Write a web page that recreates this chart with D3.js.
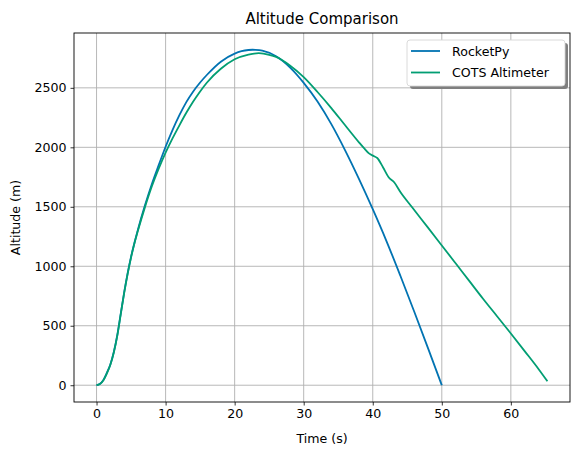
<!DOCTYPE html>
<html>
<head>
<meta charset="utf-8">
<script src="https://cdn.jsdelivr.net/npm/d3@7"></script>
<style>
  body { margin: 0; background: #fff; }
  text { font-family: "DejaVu Sans", sans-serif; fill: #000; }
</style>
</head>
<body>
<div id="chart"></div>
<script>
// data
let rocketTime = [0, 0.5, 1, 1.5, 2, 2.5, 3, 3.5, 4, 4.5, 5, 5.5, 6, 7, 8, 9, 10, 11, 12, 13, 14, 15, 16, 18, 20, 21, 22, 22.6, 23, 24, 26, 28, 30, 32, 34, 36, 38, 40, 42, 44, 46, 48, 50];
let rocketAlt = [0, 12, 45, 105, 175, 280, 420, 600, 780, 940, 1080, 1200, 1310, 1510, 1690, 1850, 2005, 2145, 2270, 2380, 2470, 2545, 2610, 2720, 2788, 2808, 2818, 2820, 2819, 2812, 2765, 2672, 2542, 2385, 2195, 1975, 1735, 1480, 1210, 920, 620, 312, 0];

let cotsTime = [0, 0.5, 1, 1.5, 2, 2.5, 3, 3.5, 4, 4.5, 5, 5.5, 6, 7, 8, 9, 10, 11, 12, 13, 14, 15, 16, 18, 20, 22, 23.5, 25, 26, 28, 30, 32, 34, 36, 38, 38.7, 39.45, 40.2, 40.65, 41.5, 42.3, 43.1, 44, 45.7, 48, 50, 52, 54, 56, 58, 60, 62, 64, 65.3];
let cotsAlt = [0, 10, 42, 100, 172, 275, 415, 595, 775, 935, 1075, 1195, 1300, 1495, 1670, 1820, 1955, 2075, 2185, 2290, 2385, 2470, 2545, 2660, 2740, 2780, 2791, 2778, 2760, 2688, 2590, 2465, 2330, 2185, 2042, 1995, 1949, 1925, 1910, 1830, 1748, 1706, 1625, 1496, 1325, 1175, 1025, 875, 725, 580, 435, 287, 137, 33];

let xTicks = [0, 10, 20, 30, 40, 50, 60];
let yTicks = [0, 500, 1000, 1500, 2000, 2500];

let seriesNames = ["RocketPy", "COTS Altimeter"];
let seriesColors = ["#0173b2", "#029e73"];

// layout
let W = 580, H = 455;
let axLeft = 74, axRight = 570, axTop = 33, axBottom = 402;

let svg = d3.select("#chart").append("svg")
  .attr("width", W)
  .attr("height", H);

let xMin = 0, xMax = d3.max(cotsTime);
let xPad = (xMax - xMin) * 0.05;
let yMax = d3.max(rocketAlt);
let yPad = yMax * 0.05;

let x = d3.scaleLinear().domain([xMin - xPad, xMax + xPad]).range([axLeft, axRight]);
let y = d3.scaleLinear().domain([-yPad, yMax + yPad]).range([axBottom, axTop]);

// grid
let grid = svg.append("g");
grid.selectAll("line.gx").data(xTicks).join("line")
  .attr("class", "gx")
  .attr("x1", d => x(d)).attr("x2", d => x(d))
  .attr("y1", axTop).attr("y2", axBottom)
  .attr("stroke", "#b0b0b0").attr("stroke-width", 0.9);
grid.selectAll("line.gy").data(yTicks).join("line")
  .attr("class", "gy")
  .attr("x1", axLeft).attr("x2", axRight)
  .attr("y1", d => y(d)).attr("y2", d => y(d))
  .attr("stroke", "#b0b0b0").attr("stroke-width", 0.9);

// axes
let xAxis = svg.append("g")
  .attr("transform", "translate(0," + axBottom + ")")
  .call(d3.axisBottom(x).tickValues(xTicks).tickSize(3.5).tickPadding(4));
let yAxis = svg.append("g")
  .attr("transform", "translate(" + axLeft + ",0)")
  .call(d3.axisLeft(y).tickValues(yTicks).tickSize(3.5).tickPadding(4).tickFormat(d3.format("d")));
[xAxis, yAxis].forEach(a => {
  a.select(".domain").remove();
  a.selectAll("text").style("font-size", "12.6px").style("font-family", "DejaVu Sans");
  a.selectAll("line").attr("stroke", "#000").attr("stroke-width", 0.8);
});

// lines
let line = d3.line().x(d => x(d[0])).y(d => y(d[1])).curve(d3.curveMonotoneX);
let rocketData = d3.zip(rocketTime, rocketAlt);
let cotsData = d3.zip(cotsTime, cotsAlt);

svg.append("path").datum(rocketData)
  .attr("d", line).attr("fill", "none")
  .attr("stroke", seriesColors[0]).attr("stroke-width", 1.8);
svg.append("path").datum(cotsData)
  .attr("d", line).attr("fill", "none")
  .attr("stroke", seriesColors[1]).attr("stroke-width", 1.8);

// frame
svg.append("rect")
  .attr("x", axLeft).attr("y", axTop)
  .attr("width", axRight - axLeft).attr("height", axBottom - axTop)
  .attr("fill", "none").attr("stroke", "#000").attr("stroke-width", 0.9);

// titles
svg.append("text")
  .attr("x", (axLeft + axRight) / 2).attr("y", 24)
  .attr("text-anchor", "middle").style("font-size", "15px")
  .text("Altitude Comparison");
svg.append("text")
  .attr("x", (axLeft + axRight) / 2).attr("y", 443)
  .attr("text-anchor", "middle").style("font-size", "12.6px")
  .text("Time (s)");
svg.append("text")
  .attr("transform", "translate(20," + ((axTop + axBottom) / 2) + ") rotate(-90)")
  .attr("text-anchor", "middle").style("font-size", "12.6px")
  .text("Altitude (m)");

// legend
let lg = svg.append("g").attr("transform", "translate(407,40)");
lg.append("rect")
  .attr("x", 3).attr("y", 3).attr("width", 158).attr("height", 46)
  .attr("rx", 3).attr("fill", "#7f7f7f");
lg.append("rect")
  .attr("x", 0).attr("y", 0).attr("width", 158).attr("height", 46)
  .attr("rx", 3).attr("fill", "#fff").attr("stroke", "#d6d6d6").attr("stroke-width", 0.9);
seriesNames.forEach((name, i) => {
  let cy = 11 + i * 21.5;
  lg.append("line")
    .attr("x1", 4).attr("x2", 33).attr("y1", cy).attr("y2", cy)
    .attr("stroke", seriesColors[i]).attr("stroke-width", 1.8);
  lg.append("text")
    .attr("x", 45).attr("y", cy + 4.5)
    .style("font-size", "12.6px")
    .text(name);
});
</script>
</body>
</html>
